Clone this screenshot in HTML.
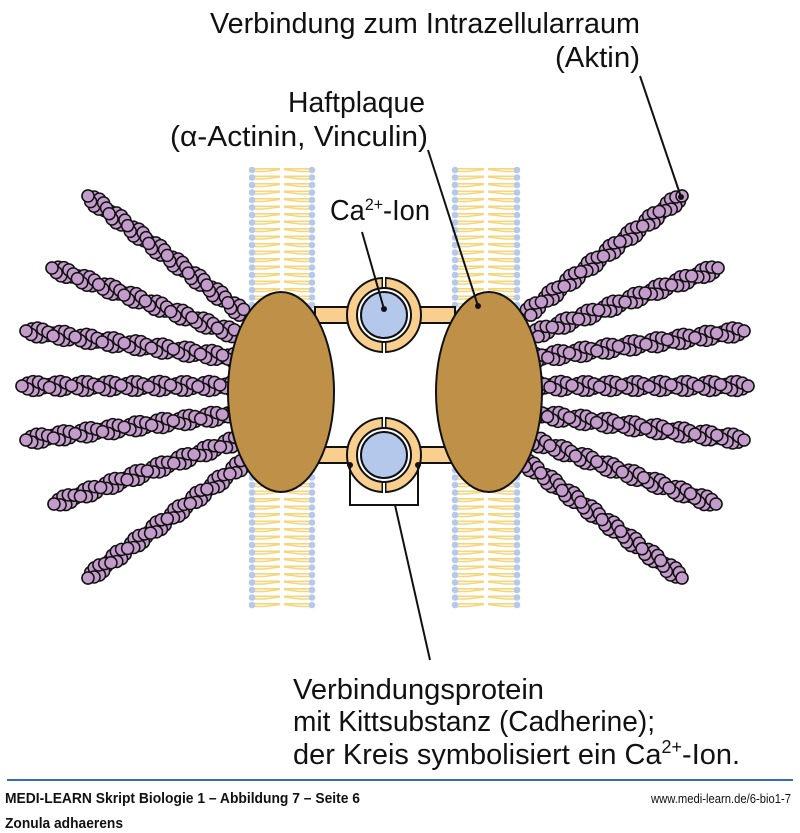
<!DOCTYPE html>
<html><head><meta charset="utf-8"><style>
html,body{margin:0;padding:0;background:#fff;}
svg{display:block;}
text{font-family:"Liberation Sans",sans-serif;fill:#111;}
</style></head><body>
<svg id="s" width="800" height="833" viewBox="0 0 800 833" xmlns="http://www.w3.org/2000/svg">
<g id="mem"></g>
<g id="act"></g>
<rect x="315" y="307" width="140" height="16" fill="#f9cf8f" stroke="#111" stroke-width="2"/>
<rect x="315" y="447" width="140" height="16" fill="#f9cf8f" stroke="#111" stroke-width="2"/>
<ellipse cx="281" cy="392" rx="53" ry="100" fill="#bf9148" stroke="#111" stroke-width="2"/>
<ellipse cx="489" cy="392" rx="53" ry="100" fill="#bf9148" stroke="#111" stroke-width="2"/>
<rect x="330" y="308.5" width="25" height="13" fill="#f9cf8f"/>
<rect x="413" y="308.5" width="30" height="13" fill="#f9cf8f"/>
<rect x="330" y="448.5" width="25" height="13" fill="#f9cf8f"/>
<rect x="413" y="448.5" width="30" height="13" fill="#f9cf8f"/>
<g id="circ"></g>
<polyline points="350,465 350,505 418,505 418,465" fill="none" stroke="#111" stroke-width="2"/>
<circle cx="350" cy="465" r="3" fill="#111"/><circle cx="418" cy="465" r="3" fill="#111"/>
<line x1="395" y1="505" x2="430" y2="660" stroke="#111" stroke-width="2"/>
<line x1="640" y1="76" x2="681" y2="197" stroke="#111" stroke-width="2"/>
<circle cx="681" cy="197" r="3" fill="#111"/>
<line x1="428" y1="150" x2="478" y2="306" stroke="#111" stroke-width="2"/>
<circle cx="478" cy="306" r="3" fill="#111"/>
<line x1="362" y1="232" x2="384" y2="309" stroke="#111" stroke-width="2"/>
<circle cx="384" cy="309" r="3" fill="#111"/>
<g font-size="29">
<text x="210" y="33" textLength="430" lengthAdjust="spacingAndGlyphs">Verbindung zum Intrazellularraum</text>
<text x="555" y="67" textLength="85" lengthAdjust="spacingAndGlyphs">(Aktin)</text>
<text x="288" y="112" textLength="137" lengthAdjust="spacingAndGlyphs">Haftplaque</text>
<text x="170" y="146" textLength="258" lengthAdjust="spacingAndGlyphs">(α-Actinin, Vinculin)</text>
<text x="330" y="220" textLength="100" lengthAdjust="spacingAndGlyphs">Ca<tspan font-size="17" dy="-10">2+</tspan><tspan dy="10">-Ion</tspan></text>
<text x="293" y="699" textLength="251" lengthAdjust="spacingAndGlyphs">Verbindungsprotein</text>
<text x="293" y="731" textLength="362" lengthAdjust="spacingAndGlyphs">mit Kittsubstanz (Cadherine);</text>
<text x="293" y="764" textLength="447" lengthAdjust="spacingAndGlyphs">der Kreis symbolisiert ein Ca<tspan font-size="18" dy="-11">2+</tspan><tspan dy="11">-Ion.</tspan></text>
</g>
<rect x="7" y="779" width="786" height="2" fill="#3a6ab0"/>
<text x="5" y="803" font-size="14.5" font-weight="bold" textLength="355" lengthAdjust="spacingAndGlyphs">MEDI-LEARN Skript Biologie 1 – Abbildung 7 – Seite 6</text>
<text x="651" y="803" font-size="13" textLength="140" lengthAdjust="spacingAndGlyphs">www.medi-learn.de/6-bio1-7</text>
<text x="5" y="828" font-size="14.5" font-weight="bold" textLength="118" lengthAdjust="spacingAndGlyphs">Zonula adhaerens</text>
</svg>
<script>
var NS="http://www.w3.org/2000/svg";
function el(p,t,a){var e=document.createElementNS(NS,t);for(var k in a)e.setAttribute(k,a[k]);p.appendChild(e);return e;}
var mem=document.getElementById('mem');
[[252,312],[455,517]].forEach(function(m){
  for(var y=170;y<=608;y+=7.5){
    var a=m[0],b=m[1],mid=(a+b)/2;
    var c="#f6d67c";
    el(mem,'line',{x1:a,y1:y-1.2,x2:mid-2,y2:y-1.2,stroke:c,'stroke-width':1.6});
    el(mem,'polyline',{points:a+','+(y+1.5)+' '+(a+12)+','+(y+1.5)+' '+(mid-2)+','+(y-0.5),fill:'none',stroke:c,'stroke-width':1.6});
    el(mem,'line',{x1:b,y1:y-1.2,x2:mid+2,y2:y-1.2,stroke:c,'stroke-width':1.6});
    el(mem,'polyline',{points:b+','+(y+1.5)+' '+(b-12)+','+(y+1.5)+' '+(mid+2)+','+(y-0.5),fill:'none',stroke:c,'stroke-width':1.6});
    el(mem,'circle',{cx:a,cy:y,r:3.3,fill:'#b6c9ea'});
    el(mem,'circle',{cx:b,cy:y,r:3.3,fill:'#b6c9ea'});
  }
});
var act=document.getElementById('act');
var L=[[88,196,245,315],[52,268,238,335],[26,331,235,358],[22,386,235,386],[26,440,235,414],[54,504,238,440],[88,578,245,462]];
var F=[];
L.forEach(function(f){F.push(f);F.push([770-f[0],f[1],770-f[2],f[3]]);});
F.forEach(function(f){
  var dx=f[2]-f[0],dy=f[3]-f[1],len=Math.hypot(dx,dy),ux=dx/len,uy=dy/len,nx=-uy,ny=ux;
  var st=5.5,n=Math.floor(len/st);
  var pts=[];
  for(var s=0;s<2;s++){
    for(var i=0;i<=n;i++){
      var t=i*st,ph=t/50*Math.PI*2+s*Math.PI;
      var off=Math.sin(ph)*4.5;
      pts.push([Math.cos(ph),f[0]+ux*t+nx*off,f[1]+uy*t+ny*off]);
    }
  }
  pts.sort(function(a,b){return a[0]-b[0];});
  pts.forEach(function(p){
    el(act,'circle',{cx:p[1],cy:p[2],r:6,fill:'#c49ccb',stroke:'#111','stroke-width':1.5});
  });
});
var circ=document.getElementById('circ');
[315,455].forEach(function(cy){
  var cx=384;
  el(circ,'circle',{cx:cx,cy:cy,r:37,fill:'#f9cf8f',stroke:'#111','stroke-width':2});
  el(circ,'line',{x1:cx,y1:cy-38,x2:cx,y2:cy-26,stroke:'#111','stroke-width':5});
  el(circ,'line',{x1:cx,y1:cy-38,x2:cx,y2:cy-26,stroke:'#fff','stroke-width':2});
  el(circ,'line',{x1:cx,y1:cy+26,x2:cx,y2:cy+38,stroke:'#111','stroke-width':5});
  el(circ,'line',{x1:cx,y1:cy+26,x2:cx,y2:cy+38,stroke:'#fff','stroke-width':2});
  el(circ,'circle',{cx:cx,cy:cy,r:27,fill:'#fff',stroke:'#111','stroke-width':2});
  el(circ,'circle',{cx:cx,cy:cy,r:23,fill:'#b3c8ea',stroke:'#111','stroke-width':2});
});
</script>
</body></html>
